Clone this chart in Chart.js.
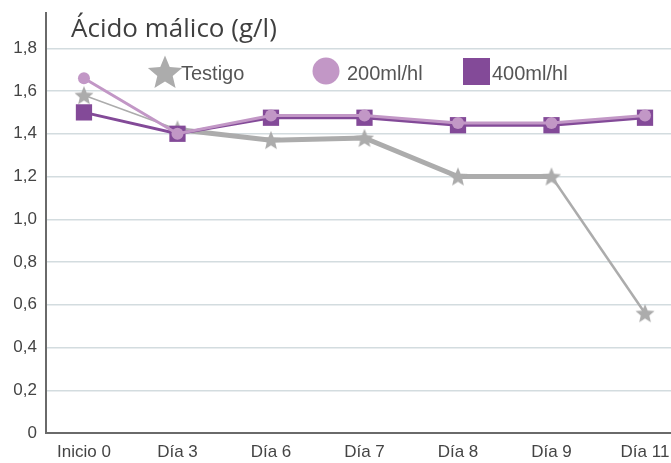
<!DOCTYPE html>
<html>
<head>
<meta charset="utf-8">
<script src="https://cdn.jsdelivr.net/npm/chart.js@4.4.1/dist/chart.umd.min.js"></script>
<style>
  html, body { margin: 0; padding: 0; background: #fff; overflow: hidden; }
  canvas { display: block; }
</style>
</head>
<body>
<canvas id="chart" width="671" height="463"></canvas>
<script>
const TITLE = 'Ácido málico (g/l)';
const CATEGORIES = ['Inicio 0', 'Día 3', 'Día 6', 'Día 7', 'Día 8', 'Día 9', 'Día 11'];
const Y_TICKS = [0, 0.2, 0.4, 0.6, 0.8, 1.0, 1.2, 1.4, 1.6, 1.8];

const SERIES_NAMES = ['Testigo', '200ml/hl', '400ml/hl'];
const TESTIGO = [1.58, 1.42, 1.37, 1.38, 1.20, 1.20, 0.56];
const DOSIS_200 = [1.66, 1.40, 1.485, 1.485, 1.45, 1.45, 1.485];
const DOSIS_400 = [1.50, 1.40, 1.475, 1.475, 1.44, 1.44, 1.475];

const GREY = '#acacac';
const LILA = '#c297c6';
const MORADO = '#834a98';
const FONT = '"Liberation Sans", Arial, sans-serif';

// estrella de 5 puntas como imagen (el 'star' de Chart.js es un asterisco)
function makeStar(size, color) {
    const c = document.createElement('canvas');
    c.width = size; c.height = size;
    const g = c.getContext('2d');
    const cx = size / 2, cy = size / 2 + size * 0.04;
    const R = size / 2, r = R * 0.45;
    g.beginPath();
    for (let i = 0; i < 10; i++) {
        const rad = i % 2 === 0 ? R : r;
        const a = -Math.PI / 2 + i * Math.PI / 5;
        g.lineTo(cx + rad * Math.cos(a), cy + rad * Math.sin(a));
    }
    g.closePath();
    g.fillStyle = color;
    g.fill();
    return c;
}

const starSmall = makeStar(20, GREY);
const starBig = makeStar(36, GREY);

const toXY = arr => arr.map((v, i) => ({ x: i, y: v }));
const TESTIGO_WIDTHS = [1.5, 5, 5, 5, 5, 2.5];

// título y leyenda dentro del área del gráfico
const overlay = {
    id: 'overlay',
    afterDraw(chart) {
        const { ctx } = chart;
        ctx.save();
        ctx.fillStyle = '#3f3f3f';
        ctx.font = '26px "Open Sans", "DejaVu Sans", sans-serif';
        ctx.textBaseline = 'middle';
        ctx.textAlign = 'left';
        ctx.fillText(TITLE, 71, 30);

        const ly = 74;
        ctx.font = '20px ' + FONT;
        ctx.fillStyle = '#555';
        ctx.drawImage(starBig, 165 - 18, ly - 20);
        ctx.fillText(SERIES_NAMES[0], 181, ly);

        ctx.fillStyle = LILA;
        ctx.beginPath();
        ctx.arc(326, ly - 3, 13.5, 0, Math.PI * 2);
        ctx.fill();
        ctx.fillStyle = '#555';
        ctx.fillText(SERIES_NAMES[1], 347, ly);

        ctx.fillStyle = MORADO;
        ctx.fillRect(463, ly - 16, 27, 27);
        ctx.fillStyle = '#555';
        ctx.fillText(SERIES_NAMES[2], 492, ly);
        ctx.restore();
    }
};

new Chart(document.getElementById('chart'), {
    type: 'line',
    data: {
        datasets: [
            {
                label: SERIES_NAMES[1],
                data: toXY(DOSIS_200),
                borderColor: LILA,
                backgroundColor: LILA,
                borderWidth: 3,
                pointStyle: 'circle',
                pointRadius: 6,
                pointBackgroundColor: LILA,
                pointBorderWidth: 0,
                order: 0
            },
            {
                label: SERIES_NAMES[2],
                data: toXY(DOSIS_400),
                borderColor: MORADO,
                backgroundColor: MORADO,
                borderWidth: 3,
                pointStyle: 'rect',
                pointRadius: 11.5,
                pointBackgroundColor: MORADO,
                pointBorderWidth: 0,
                order: 1
            },
            {
                label: SERIES_NAMES[0],
                data: toXY(TESTIGO),
                borderColor: GREY,
                backgroundColor: GREY,
                borderWidth: 4,
                segment: {
                    borderWidth: ctx => TESTIGO_WIDTHS[ctx.p0DataIndex]
                },
                pointStyle: starSmall,
                pointRadius: 10,
                order: 2
            }
        ]
    },
    options: {
        responsive: false,
        animation: false,
        layout: { autoPadding: false, padding: { top: 13, right: 0, left: 0, bottom: 0 } },
        plugins: {
            legend: { display: false },
            tooltip: { enabled: false }
        },
        scales: {
            x: {
                type: 'linear',
                min: -0.406,
                max: 6.278,
                afterBuildTicks: s => { s.ticks = CATEGORIES.map((c, i) => ({ value: i })); },
                afterFit: s => { s.height = 30; s.paddingLeft = 0; s.paddingRight = 0; },
                ticks: {
                    autoSkip: false,
                    maxRotation: 0,
                    padding: 1,
                    color: '#444',
                    font: { family: FONT, size: 17 },
                    callback: v => CATEGORIES[v]
                },
                grid: { display: false },
                border: { display: true, color: '#6a6a6a', width: 2 }
            },
            y: {
                min: 0,
                max: 1.965,
                afterBuildTicks: s => { s.ticks = Y_TICKS.map(v => ({ value: v })); },
                afterFit: s => { s.width = 46; s.paddingTop = 0; s.paddingBottom = 0; },
                ticks: {
                    padding: 9,
                    color: '#444',
                    font: { family: FONT, size: 17 },
                    callback: v => v === 0 ? '0' : v.toFixed(1).replace('.', ',')
                },
                grid: { color: '#d3dcdf', lineWidth: 1.5, drawTicks: false },
                border: { display: true, color: '#6a6a6a', width: 2 }
            }
        }
    },
    plugins: [overlay]
});
</script>
</body>
</html>
